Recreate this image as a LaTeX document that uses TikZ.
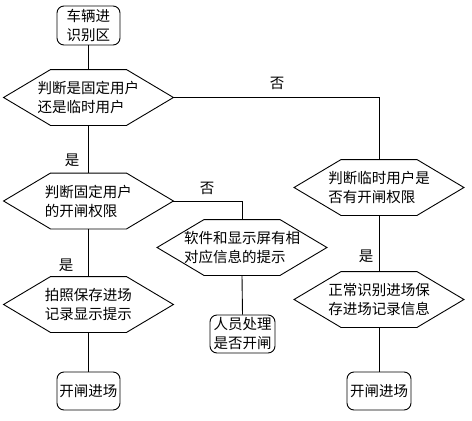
\documentclass[tikz,border=0pt]{standalone}
\usepackage{fontspec}
\newfontfamily\cjk{Noto Sans CJK SC}
\begin{document}
\begin{tikzpicture}[x=1pt,y=-1pt,line width=0.9pt,
  every node/.style={font=\cjk\fontsize{14.5}{19}\selectfont},
  hexnode/.style={minimum width=169pt,minimum height=55pt,inner sep=0pt,align=left},
  roundbox/.style={draw,rounded corners=7pt,inner sep=0pt,align=center,minimum width=63pt,minimum height=38pt},
  lbl/.style={inner sep=0pt}]
\useasboundingbox (0,0) rectangle (472,421);
\node[roundbox,minimum height=39pt] (start) at (88.5,25.5) {车辆进\\识别区};
\node[hexnode] (h1) at (88.5,97.5) {判断是固定用户\\还是临时用户};
\node[hexnode] (h2) at (88.5,201) {判断固定用户\\的开闸权限};
\node[hexnode] (h3) at (242,247.5) {软件和显示屏有相\\对应信息的提示};
\node[hexnode] (h4) at (379,187.5) {判断临时用户是\\否有开闸权限};
\node[hexnode] (h5) at (88.5,304.5) {拍照保存进场\\记录显示提示};
\node[hexnode] (h6) at (379,299.5) {正常识别进场保\\存进场记录信息};
\node[roundbox] (end1) at (88.5,391) {开闸进场};
\node[roundbox,minimum width=65pt] (mid) at (242.5,334) {人员处理\\是否开闸};
\node[roundbox,minimum width=64pt] (end2) at (379,391) {开闸进场};
\foreach \n in {h1,h2,h3,h4,h5,h6}
  \draw (\n.west) -- ([xshift=47pt]\n.north west) -- ([xshift=-47pt]\n.north east)
    -- (\n.east) -- ([xshift=-47pt]\n.south east) -- ([xshift=47pt]\n.south west) -- cycle;
\draw (start.south) -- (h1.north);
\draw (h1.east) -| (h4.north);
\draw (h1.south) -- (h2.north);
\draw (h2.east) -| (h3.north);
\draw (h2.south) -- (h5.north);
\draw (h5.south) -- (end1.north);
\draw (h3.south) -- (mid.north);
\draw (h4.south) -- (h6.north);
\draw (h6.south) -- (end2.north);
\node[lbl] (l1) at (277,83) {否};
\node[lbl] (l2) at (72,160) {是};
\node[lbl] (l3) at (207,188) {否};
\node[lbl] (l4) at (66,265) {是};
\node[lbl] (l5) at (366,256) {是};
\end{tikzpicture}
\end{document}
